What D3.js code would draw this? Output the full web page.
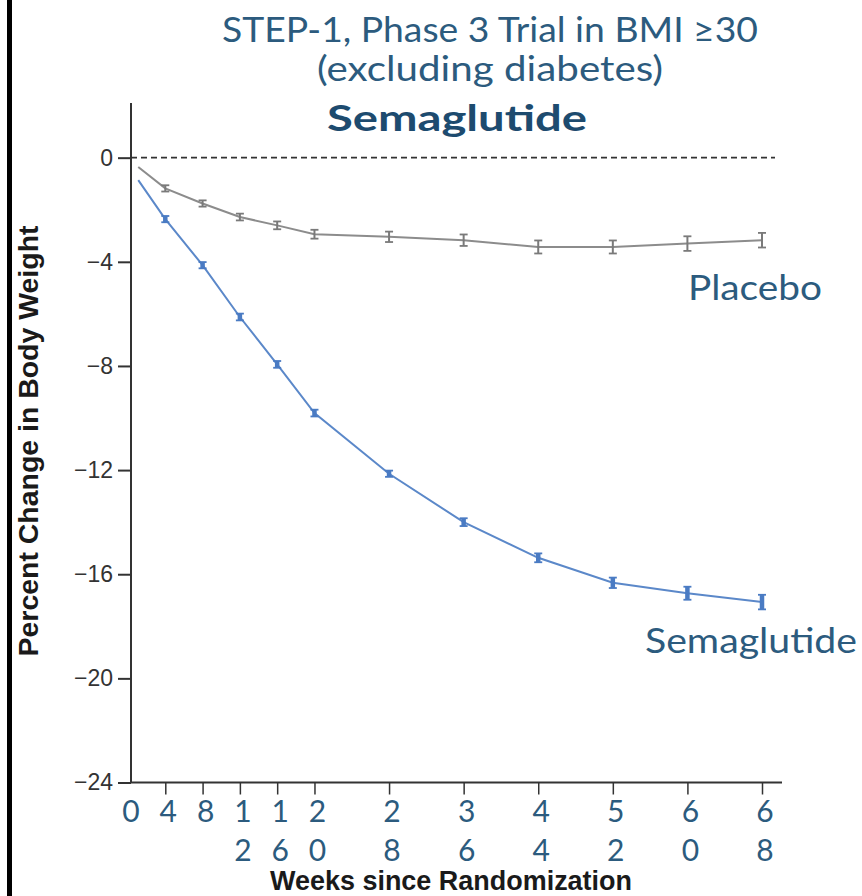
<!DOCTYPE html>
<html>
<head>
<meta charset="utf-8">
<script src="https://cdn.jsdelivr.net/npm/d3@7"></script>
<style>
  html, body { margin: 0; padding: 0; background: #fff; }
  svg { display: block; }
</style>
</head>
<body>
<div class="graph"></div>
<script>
// Values
let weeks = [4, 8, 12, 16, 20, 28, 36, 44, 52, 60, 68];
let tickWeeks = [0, 4, 8, 12, 16, 20, 28, 36, 44, 52, 60, 68];
let yTicks = [0, -4, -8, -12, -16, -20, -24];
let placebo = [-1.18, -1.76, -2.28, -2.60, -2.94, -3.04, -3.17, -3.43, -3.43, -3.30, -3.17];
let placeboErr = [0.12, 0.12, 0.13, 0.15, 0.17, 0.2, 0.22, 0.25, 0.25, 0.28, 0.28];
let semaglutide = [-2.36, -4.13, -6.12, -7.94, -9.81, -12.14, -14.0, -15.37, -16.33, -16.73, -17.07];
let semaglutideErr = [0.12, 0.12, 0.13, 0.13, 0.13, 0.12, 0.15, 0.17, 0.2, 0.25, 0.28];
// where each line begins (just after randomization)
let startWeek = 1.1;
let placeboStart = -0.36;
let semaglutideStart = -0.86;

let width = 862;
let height = 896;

let svg = d3.select(".graph").append("svg")
  .attr("width", width)
  .attr("height", height);

// black frame edge on the left
svg.append("rect")
  .attr("x", 7).attr("y", 0)
  .attr("width", 5).attr("height", height)
  .attr("fill", "#000");

// scales
let x = d3.scaleLinear().domain([0, 68]).range([128, 762]);
let y = d3.scaleLinear().domain([-24, 2.1]).range([782.5, 103]);
let axisX = 131;

let titleColor = "#2c5b7e";
let textFont = "Lato, 'Open Sans', sans-serif";

// title lines
let titles = [
  { text: "STEP-1, Phase 3 Trial in BMI \u226530", x: 490, y: 42, size: 35, weight: 400, len: 536, color: titleColor },
  { text: "(excluding diabetes)", x: 490, y: 81, size: 35, weight: 400, len: 346, color: titleColor },
  { text: "Semaglutide", x: 457, y: 131, size: 36, weight: 700, len: 260, color: "#1d4b6f" }
];
svg.selectAll(".title")
  .data(titles)
  .join("text")
  .attr("class", "title")
  .attr("x", d => d.x)
  .attr("y", d => d.y)
  .attr("text-anchor", "middle")
  .attr("font-family", textFont)
  .attr("font-size", d => d.size)
  .attr("font-weight", d => d.weight)
  .attr("fill", d => d.color)
  .attr("textLength", d => d.len)
  .attr("lengthAdjust", "spacingAndGlyphs")
  .text(d => d.text);

// y axis
let yAxis = svg.append("g")
  .attr("transform", "translate(" + axisX + ",0)")
  .call(d3.axisLeft(y)
    .tickValues(yTicks)
    .tickSize(13)
    .tickPadding(5)
    .tickFormat(d => d === 0 ? "0" : "\u2212" + Math.abs(d)));
yAxis.select(".domain")
  .attr("d", "M0," + y(2.1) + "V" + y(-24))
  .attr("stroke", "#333")
  .attr("stroke-width", 2);
yAxis.selectAll(".tick line").attr("stroke", "#333").attr("stroke-width", 2);
yAxis.selectAll(".tick text")
  .attr("font-family", "'Liberation Sans', Arial, sans-serif")
  .attr("font-size", 23)
  .attr("fill", "#333");

// x axis
let xAxis = svg.append("g")
  .attr("transform", "translate(0," + y(-24) + ")")
  .call(d3.axisBottom(x)
    .tickValues(weeks)
    .tickSize(12)
    .tickFormat(""));
xAxis.select(".domain")
  .attr("d", "M" + axisX + ",0H782")
  .attr("stroke", "#333")
  .attr("stroke-width", 2);
xAxis.selectAll(".tick line").attr("stroke", "#333").attr("stroke-width", 1.5);

// stacked digit labels under the x axis
let xLabels = svg.append("g");
tickWeeks.forEach(w => {
  let digits = String(w).split("");
  let cx = w === 0 ? axisX : x(w) + 3;
  digits.forEach((dg, i) => {
    xLabels.append("text")
      .attr("x", cx)
      .attr("y", 822 + i * 39)
      .attr("text-anchor", "middle")
      .attr("font-family", textFont)
      .attr("font-size", 30)
      .attr("fill", titleColor)
      .text(dg);
  });
});

// axis titles
svg.append("text")
  .attr("x", 451)
  .attr("y", 890)
  .attr("text-anchor", "middle")
  .attr("font-family", "'Liberation Sans', Arial, sans-serif")
  .attr("font-weight", 700)
  .attr("font-size", 27)
  .attr("fill", "#1a1a1a")
  .attr("textLength", 362)
  .attr("lengthAdjust", "spacingAndGlyphs")
  .text("Weeks since Randomization");

svg.append("text")
  .attr("transform", "translate(38,441) rotate(-90)")
  .attr("text-anchor", "middle")
  .attr("font-family", "'Liberation Sans', Arial, sans-serif")
  .attr("font-weight", 700)
  .attr("font-size", 27)
  .attr("fill", "#1a1a1a")
  .attr("textLength", 431)
  .attr("lengthAdjust", "spacingAndGlyphs")
  .text("Percent Change in Body Weight");

// dashed zero line
svg.append("line")
  .attr("x1", axisX)
  .attr("x2", 775)
  .attr("y1", y(0))
  .attr("y2", y(0))
  .attr("stroke", "#333")
  .attr("stroke-width", 1.8)
  .attr("stroke-dasharray", "6,4");

// series
let series = [
  { name: "Placebo", start: placeboStart, values: placebo, err: placeboErr,
    line: "#8c8c8c", mark: "#7a7a7a", barW: 2, capW: 8 },
  { name: "Semaglutide", start: semaglutideStart, values: semaglutide, err: semaglutideErr,
    line: "#5b88c9", mark: "#4a7bc3", barW: 4.5, capW: 8 }
];

let line = d3.line()
  .x(d => x(d.week))
  .y(d => y(d.value));

series.forEach(s => {
  let pts = [{ week: startWeek, value: s.start }]
    .concat(weeks.map((w, i) => ({ week: w, value: s.values[i], err: s.err[i] })));

  svg.append("path")
    .datum(pts)
    .attr("fill", "none")
    .attr("stroke", s.line)
    .attr("stroke-width", 2)
    .attr("d", line);

  let bars = svg.append("g").selectAll("g")
    .data(pts.slice(1))
    .join("g")
    .attr("stroke", s.mark);

  bars.append("line")
    .attr("x1", d => x(d.week)).attr("x2", d => x(d.week))
    .attr("y1", d => y(d.value + d.err)).attr("y2", d => y(d.value - d.err))
    .attr("stroke-width", s.barW);
  bars.append("line")
    .attr("x1", d => x(d.week) - s.capW / 2).attr("x2", d => x(d.week) + s.capW / 2)
    .attr("y1", d => y(d.value + d.err)).attr("y2", d => y(d.value + d.err))
    .attr("stroke-width", 1.8);
  bars.append("line")
    .attr("x1", d => x(d.week) - s.capW / 2).attr("x2", d => x(d.week) + s.capW / 2)
    .attr("y1", d => y(d.value - d.err)).attr("y2", d => y(d.value - d.err))
    .attr("stroke-width", 1.8);
});

// series labels
let seriesLabels = [
  { text: "Placebo", x: 688, y: 300, len: 134 },
  { text: "Semaglutide", x: 645, y: 653, len: 212 }
];
svg.selectAll(".slabel")
  .data(seriesLabels)
  .join("text")
  .attr("class", "slabel")
  .attr("x", d => d.x)
  .attr("y", d => d.y)
  .attr("font-family", textFont)
  .attr("font-size", 35)
  .attr("fill", titleColor)
  .attr("textLength", d => d.len)
  .attr("lengthAdjust", "spacingAndGlyphs")
  .text(d => d.text);
</script>
</body>
</html>
